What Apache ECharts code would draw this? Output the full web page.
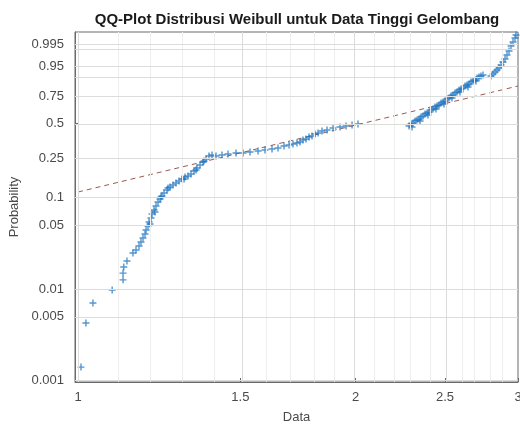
<!DOCTYPE html>
<html>
<head>
<meta charset="utf-8">
<script src="https://cdn.jsdelivr.net/npm/echarts@6/dist/echarts.min.js"></script>
<style>html,body{margin:0;padding:0;background:#fff}#c{width:520px;height:425px}</style>
</head>
<body>
<div id="c"></div>
<script>
// ---- chart data ----
const titleText = 'QQ-Plot Distribusi Weibull untuk Data Tinggi Gelombang';
const xTicks = [1, 1.5, 2, 2.5, 3];
const xMinorGrid = [1.1, 1.2, 1.3, 1.4, 1.6, 1.7, 1.8, 1.9, 2.1, 2.2, 2.3, 2.4, 2.6, 2.7, 2.8, 2.9];
const yTicks = [0.001, 0.005, 0.01, 0.05, 0.1, 0.25, 0.5, 0.75, 0.95, 0.995];
const yExtraGrid = [0.9, 0.99];
const xRange = [0.9925, 3];
const pRange = [0.00095, 0.99925];

const dataX = [
  1.0075, 1.020, 1.038, 1.089, 1.119, 1.119, 1.121, 1.130, 1.147,
  1.1558, 1.1645, 1.1703, 1.1762, 1.1821, 1.1851, 1.1910, 1.1940, 1.1970, 1.2000,
  1.2030, 1.2090, 1.2120, 1.2150, 1.2211, 1.2273, 1.2303, 1.2333, 1.2395, 1.2488,
  1.2520, 1.2582, 1.2677, 1.2772, 1.2869, 1.2966, 1.3031, 1.3063, 1.3161, 1.3260,
  1.3359, 1.3426, 1.3460, 1.3561, 1.3663, 1.3697, 1.3766, 1.3869, 1.3974,
  1.4114, 1.4327, 1.4543, 1.4837, 1.5099, 1.5365, 1.5675, 1.5950, 1.6232, 1.6477,
  1.6726, 1.6936, 1.7105, 1.7277, 1.7407, 1.7538, 1.7670, 1.7803, 1.7937, 1.8072,
  1.8209, 1.8392, 1.8622, 1.8903, 1.9237, 1.9528, 1.9823, 2.0121,
  2.2854, 2.2968, 2.3026, 2.3083, 2.3199, 2.3315, 2.3432, 2.3491, 2.3548, 2.3666,
  2.3784, 2.3903, 2.3963, 2.4023, 2.4143, 2.4264, 2.4386, 2.4447, 2.4508, 2.4630,
  2.4754, 2.4878, 2.4940, 2.5002, 2.5128, 2.5254, 2.5380, 2.5443, 2.5507, 2.5633,
  2.5761, 2.5890, 2.5955, 2.6020, 2.6150, 2.6282, 2.6413, 2.6479, 2.6545, 2.6679,
  2.6812, 2.6946, 2.7014, 2.7081, 2.7216, 2.7352, 2.7489,
  2.8045, 2.8185, 2.8326, 2.8468, 2.8611, 2.8754, 2.8898, 2.9043, 2.9188, 2.9334,
  2.9481, 2.9629, 2.9777, 2.9851
];
const dataP = [
  0.00139, 0.00427, 0.0071, 0.0099, 0.0128, 0.0152, 0.0177, 0.0206, 0.0252,
  0.02722, 0.03010, 0.03328, 0.03679, 0.04065, 0.04492, 0.04964, 0.05482, 0.05217, 0.06052,
  0.06681, 0.07373, 0.07018, 0.08131, 0.08966, 0.09644, 0.10121, 0.10370, 0.11148, 0.11978,
  0.12565, 0.12868, 0.13494, 0.14147, 0.14831, 0.15543, 0.15543, 0.16286, 0.16670, 0.17462,
  0.18710, 0.19143, 0.20037, 0.21447, 0.22946, 0.23465, 0.24536, 0.26201, 0.26779,
  0.26201, 0.26779, 0.27364, 0.27964, 0.27964, 0.28571, 0.29188, 0.29818, 0.30458, 0.31109,
  0.32440, 0.33118, 0.33808, 0.34507, 0.35216, 0.36681, 0.37425, 0.38941, 0.39713, 0.41290,
  0.42091, 0.43728, 0.44559, 0.46245, 0.47100, 0.47962, 0.48834, 0.49714,
  0.47962, 0.49714, 0.47100, 0.50602, 0.52390, 0.53295, 0.54203, 0.52390, 0.56041, 0.56963,
  0.58823, 0.59758, 0.57891, 0.60696, 0.62565, 0.63502, 0.65379, 0.63502, 0.66318, 0.67254,
  0.69113, 0.70033, 0.68186, 0.70948, 0.72776, 0.73672, 0.75451, 0.73672, 0.76330, 0.78044,
  0.78886, 0.80534, 0.78886, 0.81341, 0.82143, 0.83681, 0.84431, 0.82918, 0.85154, 0.86568,
  0.87247, 0.87912, 0.87247, 0.89179, 0.89782, 0.90366, 0.90927,
  0.90366, 0.91474, 0.92506, 0.93457, 0.94329, 0.95486, 0.96472, 0.97297, 0.98166, 0.98807,
  0.99347, 0.99620, 0.99791, 0.99872
];
// reference (fit) line end points
const refX = [1, 3];
const refP = [0.1142, 0.837];

// ---- Weibull probability-paper scales ----
const tx = v => Math.log(v);
const ty = p => Math.log(-Math.log(1 - p));

const font = 'Liberation Sans, Arial, Helvetica, sans-serif';
const pts = dataX.map((x, i) => [tx(x), ty(dataP[i])]);
const refLine = refX.map((x, i) => [tx(x), ty(refP[i])]);

function labelFor(list, f) {
  return function (v) {
    for (const t of list) if (Math.abs(f(t) - v) < 1e-6) return String(t);
    return '';
  };
}

const gridLines = [];
xTicks.forEach(t => gridLines.push({ xAxis: tx(t), lineStyle: { color: '#dcdcdc' } }));
xMinorGrid.forEach(t => gridLines.push({ xAxis: tx(t), lineStyle: { color: '#eeeeee' } }));
yTicks.concat(yExtraGrid).forEach(t => gridLines.push({ yAxis: ty(t), lineStyle: { color: '#dcdcdc' } }));

const chart = echarts.init(document.getElementById('c'), null, { renderer: 'canvas' });
chart.setOption({
  animation: false,
  backgroundColor: '#ffffff',
  title: {
    text: titleText, left: 297, top: 12, textAlign: 'center', padding: 0,
    textStyle: { fontFamily: font, fontSize: 15, fontWeight: 'bold', color: '#1a1a1a' }
  },
  grid: { left: 75, right: 2, top: 32, bottom: 43, containLabel: false, outerBoundsMode: 'none',
    show: true, borderColor: '#6a6a6a', borderWidth: 1 },
  xAxis: {
    type: 'value', min: tx(xRange[0]), max: tx(xRange[1]),
    name: 'Data', nameLocation: 'middle', nameGap: 29,
    nameTextStyle: { fontFamily: font, fontSize: 13, color: '#4a4a4a' },
    axisLine: { show: true, onZero: false, lineStyle: { color: '#6a6a6a' } },
    axisTick: { show: true, inside: true, length: 4, customValues: xTicks.map(tx), lineStyle: { color: '#6a6a6a' } },
    axisLabel: { customValues: xTicks.map(tx), formatter: labelFor(xTicks, tx), margin: 9,
      fontFamily: font, fontSize: 13, color: '#4a4a4a' },
    splitLine: { show: false }
  },
  yAxis: {
    type: 'value', min: ty(pRange[0]), max: ty(pRange[1]),
    name: 'Probability', nameLocation: 'middle', nameGap: 47,
    nameTextStyle: { fontFamily: font, fontSize: 13, color: '#4a4a4a' },
    axisLine: { show: true, onZero: false, lineStyle: { color: '#6a6a6a' } },
    axisTick: { show: true, inside: true, length: 4, customValues: yTicks.map(ty), lineStyle: { color: '#6a6a6a' } },
    axisLabel: { customValues: yTicks.map(ty), formatter: labelFor(yTicks, ty), margin: 11,
      fontFamily: font, fontSize: 13, color: '#4a4a4a' },
    splitLine: { show: false }
  },
  series: [
    {
      type: 'line', data: [[tx(xRange[0]), ty(pRange[0])]], showSymbol: false, symbol: 'none',
      lineStyle: { opacity: 0 }, silent: true, z: 0,
      markLine: { silent: true, symbol: ['none', 'none'], label: { show: false },
        lineStyle: { type: 'solid', width: 1 }, data: gridLines, animation: false }
    },
    {
      type: 'line', data: refLine, showSymbol: false, symbol: 'none', z: 2,
      lineStyle: { color: '#9b5a50', width: 1, type: [5, 4] }
    },
    {
      type: 'scatter', data: pts, z: 3,
      symbol: 'path://M4,0H6V4H10V6H6V10H4V6H0V4H4Z', symbolSize: 7,
      itemStyle: { color: '#1b72bd', opacity: 0.75 }
    }
  ]
});
</script>
</body>
</html>
